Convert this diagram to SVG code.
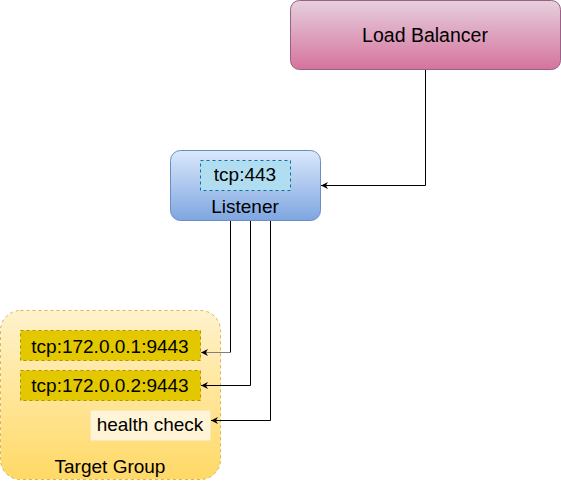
<svg xmlns="http://www.w3.org/2000/svg" width="561" height="481" viewBox="0 0 561 481">
<style>
text{font-family:"Liberation Sans",Arial,sans-serif;fill:#000;text-anchor:middle;font-size:19px}
.c{fill:none;stroke:#000;stroke-width:1}
</style>
<defs>
<linearGradient id="gPink" x1="0" y1="0" x2="0" y2="1"><stop offset="0" stop-color="#e6d0de"/><stop offset="1" stop-color="#d5739d"/></linearGradient>
<linearGradient id="gBlue" x1="0" y1="0" x2="0" y2="1"><stop offset="0" stop-color="#dae8fc"/><stop offset="1" stop-color="#7ea6e0"/></linearGradient>
<linearGradient id="gYel" x1="0" y1="0" x2="0" y2="1"><stop offset="0" stop-color="#fff2cc"/><stop offset="1" stop-color="#ffd966"/></linearGradient>
<marker id="ah" viewBox="0 0 10 10" refX="10" refY="5" markerWidth="7" markerHeight="7" markerUnits="userSpaceOnUse" orient="auto"><path d="M10,5 L0,0 L3,5 L0,10 Z" fill="#000"/></marker>
</defs>
<g id="target-group">
<rect x="0.5" y="310.5" width="220" height="169" rx="20" fill="url(#gYel)" stroke="#d6b656" stroke-dasharray="3 3"/>
<text x="110" y="473">Target Group</text>
</g>
<g id="target1">
<rect x="20.5" y="330.5" width="180" height="30" fill="#e3c800" stroke="#b09500" stroke-dasharray="3 3"/>
<text x="110" y="352.5">tcp:172.0.0.1:9443</text>
</g>
<g id="target2">
<rect x="20.5" y="370.5" width="180" height="30" fill="#e3c800" stroke="#b09500" stroke-dasharray="3 3"/>
<text x="110" y="391.5">tcp:172.0.0.2:9443</text>
</g>
<g id="health-check">
<rect x="90.5" y="410.5" width="120" height="30" fill="#fff4d6" stroke="#f5e6b8" stroke-dasharray="3 3"/>
<text x="150" y="431">health check</text>
</g>
<g id="load-balancer">
<rect x="290.5" y="0.5" width="270" height="69" rx="9" fill="url(#gPink)" stroke="#996185"/>
<text x="425" y="42" style="font-size:19.5px">Load Balancer</text>
</g>
<g id="listener">
<rect x="170.5" y="150.5" width="150" height="70" rx="10" fill="url(#gBlue)" stroke="#6c8ebf"/>
<rect x="200.5" y="160.5" width="90" height="30" fill="#b1ddf0" stroke="#10739e" stroke-dasharray="3 3"/>
<text x="245" y="181">tcp:443</text>
<text x="245" y="213">Listener</text>
</g>
<g id="connectors">
<path class="c" d="M425.5,70 V185.5 H321" marker-end="url(#ah)"/>
<path class="c" d="M230.5,221 V352.5"/>
<path class="c" d="M230.5,352.5 H201" style="stroke:#808080" marker-end="url(#ah)"/>
<path class="c" d="M250.5,221 V385.5 H201" marker-end="url(#ah)"/>
<path class="c" d="M270.5,221 V420.5 H211" marker-end="url(#ah)"/>
</g>
</svg>
